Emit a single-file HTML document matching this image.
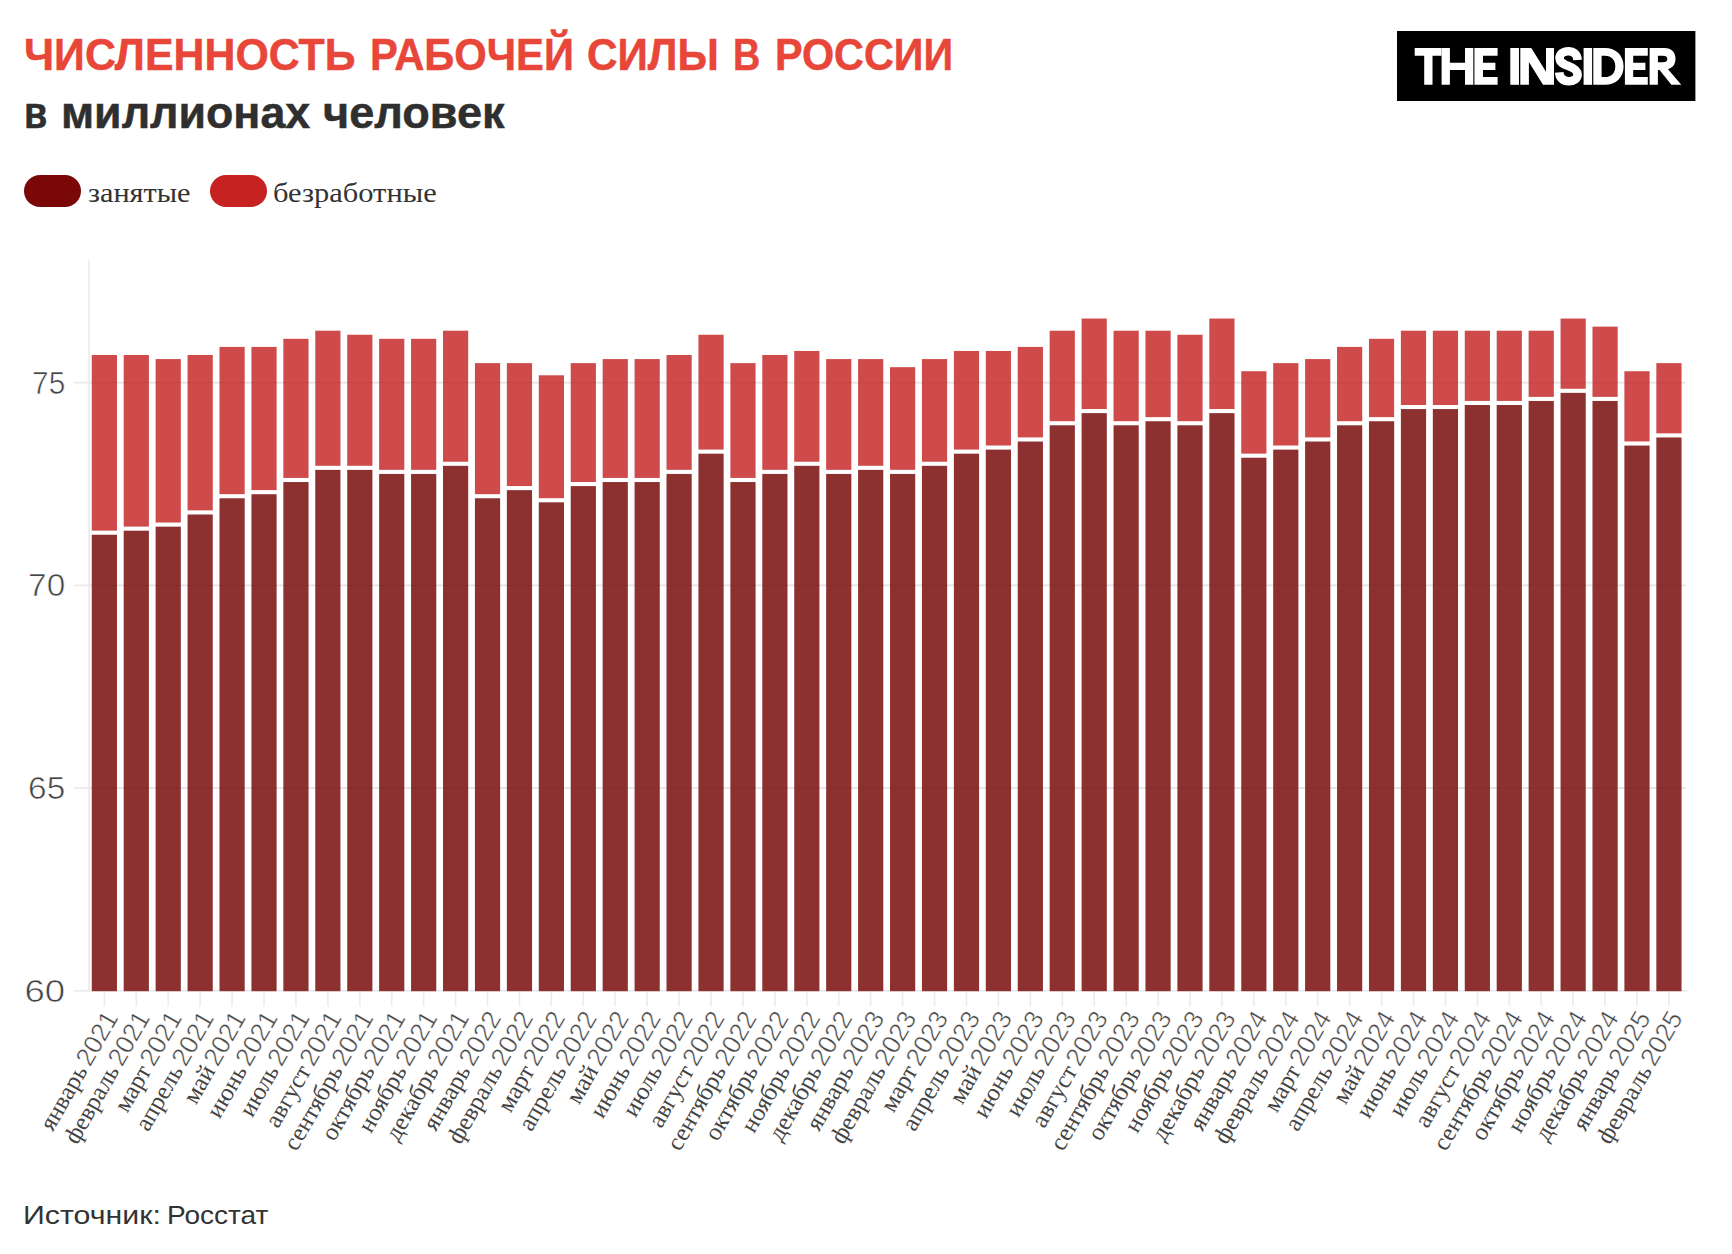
<!DOCTYPE html>
<html lang="ru"><head><meta charset="utf-8"><title>Численность рабочей силы в России</title>
<style>
html,body{margin:0;padding:0;background:#fff;}
body{width:1732px;height:1254px;position:relative;overflow:hidden;font-family:"Liberation Sans",sans-serif;}
.abs{position:absolute;white-space:nowrap;transform-origin:0 0;line-height:1;}
.title{top:31.7px;font-size:45px;font-weight:bold;color:#e74638;-webkit-text-stroke:0.5px #e74638;}
.sub{top:91.6px;font-size:43.5px;font-weight:bold;color:#2f2f2f;-webkit-text-stroke:0.5px #2f2f2f;}
.pill{position:absolute;top:175px;width:57px;height:32px;border-radius:16px;}
.leg{font-family:"Liberation Serif",serif;font-size:28px;color:#333;top:179.3px;}
.src{top:1202.3px;font-size:26.5px;color:#333;}
svg{position:absolute;left:0;top:0;}
.se{font-family:"Liberation Serif",serif;}
.sa{font-family:"Liberation Sans",sans-serif;}
</style></head><body>
<div class="abs title" style="left:24.2px;transform:scaleX(0.9525);">ЧИСЛЕННОСТЬ</div>
<div class="abs title" style="left:369.7px;transform:scaleX(0.9276);">РАБОЧЕЙ</div>
<div class="abs title" style="left:587.2px;transform:scaleX(0.938);">СИЛЫ</div>
<div class="abs title" style="left:732.5px;transform:scaleX(0.839);">В</div>
<div class="abs title" style="left:775.25px;transform:scaleX(0.9176);">РОССИИ</div>
<div class="abs sub" style="left:24.2px;transform:scaleX(0.87);">в</div>
<div class="abs sub" style="left:60.5px;transform:scaleX(1.029);">миллионах</div>
<div class="abs sub" style="left:322.6px;transform:scaleX(1.0365);">человек</div>
<div class="abs leg" style="left:87.9px;transform:scaleX(1.0816);">занятые</div>
<div class="abs leg" style="left:273.4px;transform:scaleX(1.0876);">безработные</div>
<div class="abs src" style="left:22.8px;transform:scaleX(1.144);">Источник:</div>
<div class="abs src" style="left:166.8px;transform:scaleX(1.058);">Росстат</div>
<div class="pill" style="left:24px;background:#7a0808"></div>
<div class="pill" style="left:210px;background:#c62222"></div>
<svg width="1732" height="1254" viewBox="0 0 1732 1254">
<rect x="88.2" y="260" width="1.6" height="731.6" fill="#ebebeb"/>
<rect x="73.6" y="989.90" width="1613.9" height="1.8" fill="#ececec"/>
<rect x="73.6" y="787.20" width="1611.9" height="1.8" fill="#ececec"/>
<rect x="73.6" y="584.50" width="1611.9" height="1.8" fill="#ececec"/>
<rect x="73.6" y="381.80" width="1611.9" height="1.8" fill="#ececec"/>
<rect x="91.77" y="355.02" width="25.2" height="175.63" fill="#cf4a4a"/>
<rect x="91.77" y="534.75" width="25.2" height="456.45" fill="#8c3130"/>
<rect x="123.70" y="355.02" width="25.2" height="171.57" fill="#cf4a4a"/>
<rect x="123.70" y="530.69" width="25.2" height="460.51" fill="#8c3130"/>
<rect x="155.62" y="359.08" width="25.2" height="163.46" fill="#cf4a4a"/>
<rect x="155.62" y="526.64" width="25.2" height="464.56" fill="#8c3130"/>
<rect x="187.56" y="355.02" width="25.2" height="155.36" fill="#cf4a4a"/>
<rect x="187.56" y="514.48" width="25.2" height="476.72" fill="#8c3130"/>
<rect x="219.49" y="346.91" width="25.2" height="147.25" fill="#cf4a4a"/>
<rect x="219.49" y="498.26" width="25.2" height="492.94" fill="#8c3130"/>
<rect x="251.42" y="346.91" width="25.2" height="143.19" fill="#cf4a4a"/>
<rect x="251.42" y="494.21" width="25.2" height="496.99" fill="#8c3130"/>
<rect x="283.35" y="338.81" width="25.2" height="139.14" fill="#cf4a4a"/>
<rect x="283.35" y="482.05" width="25.2" height="509.15" fill="#8c3130"/>
<rect x="315.27" y="330.70" width="25.2" height="135.09" fill="#cf4a4a"/>
<rect x="315.27" y="469.88" width="25.2" height="521.32" fill="#8c3130"/>
<rect x="347.21" y="334.75" width="25.2" height="131.03" fill="#cf4a4a"/>
<rect x="347.21" y="469.88" width="25.2" height="521.32" fill="#8c3130"/>
<rect x="379.13" y="338.81" width="25.2" height="131.03" fill="#cf4a4a"/>
<rect x="379.13" y="473.94" width="25.2" height="517.26" fill="#8c3130"/>
<rect x="411.07" y="338.81" width="25.2" height="131.03" fill="#cf4a4a"/>
<rect x="411.07" y="473.94" width="25.2" height="517.26" fill="#8c3130"/>
<rect x="443.00" y="330.70" width="25.2" height="131.03" fill="#cf4a4a"/>
<rect x="443.00" y="465.83" width="25.2" height="525.37" fill="#8c3130"/>
<rect x="474.92" y="363.13" width="25.2" height="131.03" fill="#cf4a4a"/>
<rect x="474.92" y="498.26" width="25.2" height="492.94" fill="#8c3130"/>
<rect x="506.86" y="363.13" width="25.2" height="122.92" fill="#cf4a4a"/>
<rect x="506.86" y="490.15" width="25.2" height="501.05" fill="#8c3130"/>
<rect x="538.78" y="375.29" width="25.2" height="122.92" fill="#cf4a4a"/>
<rect x="538.78" y="502.32" width="25.2" height="488.88" fill="#8c3130"/>
<rect x="570.72" y="363.13" width="25.2" height="118.87" fill="#cf4a4a"/>
<rect x="570.72" y="486.10" width="25.2" height="505.10" fill="#8c3130"/>
<rect x="602.64" y="359.08" width="25.2" height="118.87" fill="#cf4a4a"/>
<rect x="602.64" y="482.05" width="25.2" height="509.15" fill="#8c3130"/>
<rect x="634.57" y="359.08" width="25.2" height="118.87" fill="#cf4a4a"/>
<rect x="634.57" y="482.05" width="25.2" height="509.15" fill="#8c3130"/>
<rect x="666.50" y="355.02" width="25.2" height="114.82" fill="#cf4a4a"/>
<rect x="666.50" y="473.94" width="25.2" height="517.26" fill="#8c3130"/>
<rect x="698.43" y="334.75" width="25.2" height="114.82" fill="#cf4a4a"/>
<rect x="698.43" y="453.67" width="25.2" height="537.53" fill="#8c3130"/>
<rect x="730.37" y="363.13" width="25.2" height="114.82" fill="#cf4a4a"/>
<rect x="730.37" y="482.05" width="25.2" height="509.15" fill="#8c3130"/>
<rect x="762.29" y="355.02" width="25.2" height="114.82" fill="#cf4a4a"/>
<rect x="762.29" y="473.94" width="25.2" height="517.26" fill="#8c3130"/>
<rect x="794.23" y="350.97" width="25.2" height="110.76" fill="#cf4a4a"/>
<rect x="794.23" y="465.83" width="25.2" height="525.37" fill="#8c3130"/>
<rect x="826.15" y="359.08" width="25.2" height="110.76" fill="#cf4a4a"/>
<rect x="826.15" y="473.94" width="25.2" height="517.26" fill="#8c3130"/>
<rect x="858.08" y="359.08" width="25.2" height="106.71" fill="#cf4a4a"/>
<rect x="858.08" y="469.88" width="25.2" height="521.32" fill="#8c3130"/>
<rect x="890.01" y="367.18" width="25.2" height="102.65" fill="#cf4a4a"/>
<rect x="890.01" y="473.94" width="25.2" height="517.26" fill="#8c3130"/>
<rect x="921.94" y="359.08" width="25.2" height="102.65" fill="#cf4a4a"/>
<rect x="921.94" y="465.83" width="25.2" height="525.37" fill="#8c3130"/>
<rect x="953.88" y="350.97" width="25.2" height="98.60" fill="#cf4a4a"/>
<rect x="953.88" y="453.67" width="25.2" height="537.53" fill="#8c3130"/>
<rect x="985.80" y="350.97" width="25.2" height="94.55" fill="#cf4a4a"/>
<rect x="985.80" y="449.61" width="25.2" height="541.59" fill="#8c3130"/>
<rect x="1017.74" y="346.91" width="25.2" height="90.49" fill="#cf4a4a"/>
<rect x="1017.74" y="441.51" width="25.2" height="549.69" fill="#8c3130"/>
<rect x="1049.66" y="330.70" width="25.2" height="90.49" fill="#cf4a4a"/>
<rect x="1049.66" y="425.29" width="25.2" height="565.91" fill="#8c3130"/>
<rect x="1081.60" y="318.54" width="25.2" height="90.49" fill="#cf4a4a"/>
<rect x="1081.60" y="413.13" width="25.2" height="578.07" fill="#8c3130"/>
<rect x="1113.53" y="330.70" width="25.2" height="90.49" fill="#cf4a4a"/>
<rect x="1113.53" y="425.29" width="25.2" height="565.91" fill="#8c3130"/>
<rect x="1145.46" y="330.70" width="25.2" height="86.44" fill="#cf4a4a"/>
<rect x="1145.46" y="421.24" width="25.2" height="569.96" fill="#8c3130"/>
<rect x="1177.38" y="334.75" width="25.2" height="86.44" fill="#cf4a4a"/>
<rect x="1177.38" y="425.29" width="25.2" height="565.91" fill="#8c3130"/>
<rect x="1209.32" y="318.54" width="25.2" height="90.49" fill="#cf4a4a"/>
<rect x="1209.32" y="413.13" width="25.2" height="578.07" fill="#8c3130"/>
<rect x="1241.25" y="371.24" width="25.2" height="82.38" fill="#cf4a4a"/>
<rect x="1241.25" y="457.72" width="25.2" height="533.48" fill="#8c3130"/>
<rect x="1273.18" y="363.13" width="25.2" height="82.38" fill="#cf4a4a"/>
<rect x="1273.18" y="449.61" width="25.2" height="541.59" fill="#8c3130"/>
<rect x="1305.11" y="359.08" width="25.2" height="78.33" fill="#cf4a4a"/>
<rect x="1305.11" y="441.51" width="25.2" height="549.69" fill="#8c3130"/>
<rect x="1337.04" y="346.91" width="25.2" height="74.28" fill="#cf4a4a"/>
<rect x="1337.04" y="425.29" width="25.2" height="565.91" fill="#8c3130"/>
<rect x="1368.97" y="338.81" width="25.2" height="78.33" fill="#cf4a4a"/>
<rect x="1368.97" y="421.24" width="25.2" height="569.96" fill="#8c3130"/>
<rect x="1400.89" y="330.70" width="25.2" height="74.28" fill="#cf4a4a"/>
<rect x="1400.89" y="409.07" width="25.2" height="582.13" fill="#8c3130"/>
<rect x="1432.83" y="330.70" width="25.2" height="74.28" fill="#cf4a4a"/>
<rect x="1432.83" y="409.07" width="25.2" height="582.13" fill="#8c3130"/>
<rect x="1464.76" y="330.70" width="25.2" height="70.22" fill="#cf4a4a"/>
<rect x="1464.76" y="405.02" width="25.2" height="586.18" fill="#8c3130"/>
<rect x="1496.69" y="330.70" width="25.2" height="70.22" fill="#cf4a4a"/>
<rect x="1496.69" y="405.02" width="25.2" height="586.18" fill="#8c3130"/>
<rect x="1528.62" y="330.70" width="25.2" height="66.17" fill="#cf4a4a"/>
<rect x="1528.62" y="400.97" width="25.2" height="590.23" fill="#8c3130"/>
<rect x="1560.55" y="318.54" width="25.2" height="70.22" fill="#cf4a4a"/>
<rect x="1560.55" y="392.86" width="25.2" height="598.34" fill="#8c3130"/>
<rect x="1592.48" y="326.64" width="25.2" height="70.22" fill="#cf4a4a"/>
<rect x="1592.48" y="400.97" width="25.2" height="590.23" fill="#8c3130"/>
<rect x="1624.40" y="371.24" width="25.2" height="70.22" fill="#cf4a4a"/>
<rect x="1624.40" y="445.56" width="25.2" height="545.64" fill="#8c3130"/>
<rect x="1656.34" y="363.13" width="25.2" height="70.22" fill="#cf4a4a"/>
<rect x="1656.34" y="437.45" width="25.2" height="553.75" fill="#8c3130"/>
<rect x="89" y="787.20" width="1596.0" height="1.8" fill="#000" fill-opacity="0.03"/>
<rect x="89" y="584.50" width="1596.0" height="1.8" fill="#000" fill-opacity="0.03"/>
<rect x="89" y="381.80" width="1596.0" height="1.8" fill="#000" fill-opacity="0.03"/>
<rect x="103.57" y="992.00" width="1.6" height="14.4" fill="#ececec"/>
<rect x="135.50" y="992.00" width="1.6" height="14.4" fill="#ececec"/>
<rect x="167.43" y="992.00" width="1.6" height="14.4" fill="#ececec"/>
<rect x="199.35" y="992.00" width="1.6" height="14.4" fill="#ececec"/>
<rect x="231.28" y="992.00" width="1.6" height="14.4" fill="#ececec"/>
<rect x="263.21" y="992.00" width="1.6" height="14.4" fill="#ececec"/>
<rect x="295.14" y="992.00" width="1.6" height="14.4" fill="#ececec"/>
<rect x="327.07" y="992.00" width="1.6" height="14.4" fill="#ececec"/>
<rect x="359.00" y="992.00" width="1.6" height="14.4" fill="#ececec"/>
<rect x="390.94" y="992.00" width="1.6" height="14.4" fill="#ececec"/>
<rect x="422.86" y="992.00" width="1.6" height="14.4" fill="#ececec"/>
<rect x="454.80" y="992.00" width="1.6" height="14.4" fill="#ececec"/>
<rect x="486.72" y="992.00" width="1.6" height="14.4" fill="#ececec"/>
<rect x="518.66" y="992.00" width="1.6" height="14.4" fill="#ececec"/>
<rect x="550.59" y="992.00" width="1.6" height="14.4" fill="#ececec"/>
<rect x="582.52" y="992.00" width="1.6" height="14.4" fill="#ececec"/>
<rect x="614.45" y="992.00" width="1.6" height="14.4" fill="#ececec"/>
<rect x="646.38" y="992.00" width="1.6" height="14.4" fill="#ececec"/>
<rect x="678.31" y="992.00" width="1.6" height="14.4" fill="#ececec"/>
<rect x="710.24" y="992.00" width="1.6" height="14.4" fill="#ececec"/>
<rect x="742.16" y="992.00" width="1.6" height="14.4" fill="#ececec"/>
<rect x="774.10" y="992.00" width="1.6" height="14.4" fill="#ececec"/>
<rect x="806.02" y="992.00" width="1.6" height="14.4" fill="#ececec"/>
<rect x="837.96" y="992.00" width="1.6" height="14.4" fill="#ececec"/>
<rect x="869.88" y="992.00" width="1.6" height="14.4" fill="#ececec"/>
<rect x="901.82" y="992.00" width="1.6" height="14.4" fill="#ececec"/>
<rect x="933.75" y="992.00" width="1.6" height="14.4" fill="#ececec"/>
<rect x="965.68" y="992.00" width="1.6" height="14.4" fill="#ececec"/>
<rect x="997.61" y="992.00" width="1.6" height="14.4" fill="#ececec"/>
<rect x="1029.54" y="992.00" width="1.6" height="14.4" fill="#ececec"/>
<rect x="1061.47" y="992.00" width="1.6" height="14.4" fill="#ececec"/>
<rect x="1093.39" y="992.00" width="1.6" height="14.4" fill="#ececec"/>
<rect x="1125.33" y="992.00" width="1.6" height="14.4" fill="#ececec"/>
<rect x="1157.26" y="992.00" width="1.6" height="14.4" fill="#ececec"/>
<rect x="1189.19" y="992.00" width="1.6" height="14.4" fill="#ececec"/>
<rect x="1221.12" y="992.00" width="1.6" height="14.4" fill="#ececec"/>
<rect x="1253.05" y="992.00" width="1.6" height="14.4" fill="#ececec"/>
<rect x="1284.98" y="992.00" width="1.6" height="14.4" fill="#ececec"/>
<rect x="1316.91" y="992.00" width="1.6" height="14.4" fill="#ececec"/>
<rect x="1348.84" y="992.00" width="1.6" height="14.4" fill="#ececec"/>
<rect x="1380.77" y="992.00" width="1.6" height="14.4" fill="#ececec"/>
<rect x="1412.70" y="992.00" width="1.6" height="14.4" fill="#ececec"/>
<rect x="1444.63" y="992.00" width="1.6" height="14.4" fill="#ececec"/>
<rect x="1476.56" y="992.00" width="1.6" height="14.4" fill="#ececec"/>
<rect x="1508.49" y="992.00" width="1.6" height="14.4" fill="#ececec"/>
<rect x="1540.42" y="992.00" width="1.6" height="14.4" fill="#ececec"/>
<rect x="1572.35" y="992.00" width="1.6" height="14.4" fill="#ececec"/>
<rect x="1604.28" y="992.00" width="1.6" height="14.4" fill="#ececec"/>
<rect x="1636.21" y="992.00" width="1.6" height="14.4" fill="#ececec"/>
<rect x="1668.14" y="992.00" width="1.6" height="14.4" fill="#ececec"/>
<text transform="translate(118.87 1017.70) rotate(-60)" text-anchor="end" font-size="26" fill="#444"><tspan class="se" font-size="24.8">январь </tspan><tspan class="sa" dx="-2.5" stroke="#fff" stroke-width="0.5">2021</tspan></text>
<text transform="translate(150.80 1017.70) rotate(-60)" text-anchor="end" font-size="26" fill="#444"><tspan class="se" font-size="24.8">февраль </tspan><tspan class="sa" dx="-2.5" stroke="#fff" stroke-width="0.5">2021</tspan></text>
<text transform="translate(182.73 1017.70) rotate(-60)" text-anchor="end" font-size="26" fill="#444"><tspan class="se" font-size="24.8">март </tspan><tspan class="sa" dx="-2.5" stroke="#fff" stroke-width="0.5">2021</tspan></text>
<text transform="translate(214.66 1017.70) rotate(-60)" text-anchor="end" font-size="26" fill="#444"><tspan class="se" font-size="24.8">апрель </tspan><tspan class="sa" dx="-2.5" stroke="#fff" stroke-width="0.5">2021</tspan></text>
<text transform="translate(246.59 1017.70) rotate(-60)" text-anchor="end" font-size="26" fill="#444"><tspan class="se" font-size="24.8">май </tspan><tspan class="sa" dx="-2.5" stroke="#fff" stroke-width="0.5">2021</tspan></text>
<text transform="translate(278.51 1017.70) rotate(-60)" text-anchor="end" font-size="26" fill="#444"><tspan class="se" font-size="24.8">июнь </tspan><tspan class="sa" dx="-2.5" stroke="#fff" stroke-width="0.5">2021</tspan></text>
<text transform="translate(310.44 1017.70) rotate(-60)" text-anchor="end" font-size="26" fill="#444"><tspan class="se" font-size="24.8">июль </tspan><tspan class="sa" dx="-2.5" stroke="#fff" stroke-width="0.5">2021</tspan></text>
<text transform="translate(342.38 1017.70) rotate(-60)" text-anchor="end" font-size="26" fill="#444"><tspan class="se" font-size="24.8">август </tspan><tspan class="sa" dx="-2.5" stroke="#fff" stroke-width="0.5">2021</tspan></text>
<text transform="translate(374.30 1017.70) rotate(-60)" text-anchor="end" font-size="26" fill="#444"><tspan class="se" font-size="24.8">сентябрь </tspan><tspan class="sa" dx="-2.5" stroke="#fff" stroke-width="0.5">2021</tspan></text>
<text transform="translate(406.24 1017.70) rotate(-60)" text-anchor="end" font-size="26" fill="#444"><tspan class="se" font-size="24.8">октябрь </tspan><tspan class="sa" dx="-2.5" stroke="#fff" stroke-width="0.5">2021</tspan></text>
<text transform="translate(438.16 1017.70) rotate(-60)" text-anchor="end" font-size="26" fill="#444"><tspan class="se" font-size="24.8">ноябрь </tspan><tspan class="sa" dx="-2.5" stroke="#fff" stroke-width="0.5">2021</tspan></text>
<text transform="translate(470.10 1017.70) rotate(-60)" text-anchor="end" font-size="26" fill="#444"><tspan class="se" font-size="24.8">декабрь </tspan><tspan class="sa" dx="-2.5" stroke="#fff" stroke-width="0.5">2021</tspan></text>
<text transform="translate(502.02 1017.70) rotate(-60)" text-anchor="end" font-size="26" fill="#444"><tspan class="se" font-size="24.8">январь </tspan><tspan class="sa" dx="-2.5" stroke="#fff" stroke-width="0.5">2022</tspan></text>
<text transform="translate(533.96 1017.70) rotate(-60)" text-anchor="end" font-size="26" fill="#444"><tspan class="se" font-size="24.8">февраль </tspan><tspan class="sa" dx="-2.5" stroke="#fff" stroke-width="0.5">2022</tspan></text>
<text transform="translate(565.88 1017.70) rotate(-60)" text-anchor="end" font-size="26" fill="#444"><tspan class="se" font-size="24.8">март </tspan><tspan class="sa" dx="-2.5" stroke="#fff" stroke-width="0.5">2022</tspan></text>
<text transform="translate(597.82 1017.70) rotate(-60)" text-anchor="end" font-size="26" fill="#444"><tspan class="se" font-size="24.8">апрель </tspan><tspan class="sa" dx="-2.5" stroke="#fff" stroke-width="0.5">2022</tspan></text>
<text transform="translate(629.75 1017.70) rotate(-60)" text-anchor="end" font-size="26" fill="#444"><tspan class="se" font-size="24.8">май </tspan><tspan class="sa" dx="-2.5" stroke="#fff" stroke-width="0.5">2022</tspan></text>
<text transform="translate(661.67 1017.70) rotate(-60)" text-anchor="end" font-size="26" fill="#444"><tspan class="se" font-size="24.8">июнь </tspan><tspan class="sa" dx="-2.5" stroke="#fff" stroke-width="0.5">2022</tspan></text>
<text transform="translate(693.61 1017.70) rotate(-60)" text-anchor="end" font-size="26" fill="#444"><tspan class="se" font-size="24.8">июль </tspan><tspan class="sa" dx="-2.5" stroke="#fff" stroke-width="0.5">2022</tspan></text>
<text transform="translate(725.53 1017.70) rotate(-60)" text-anchor="end" font-size="26" fill="#444"><tspan class="se" font-size="24.8">август </tspan><tspan class="sa" dx="-2.5" stroke="#fff" stroke-width="0.5">2022</tspan></text>
<text transform="translate(757.46 1017.70) rotate(-60)" text-anchor="end" font-size="26" fill="#444"><tspan class="se" font-size="24.8">сентябрь </tspan><tspan class="sa" dx="-2.5" stroke="#fff" stroke-width="0.5">2022</tspan></text>
<text transform="translate(789.39 1017.70) rotate(-60)" text-anchor="end" font-size="26" fill="#444"><tspan class="se" font-size="24.8">октябрь </tspan><tspan class="sa" dx="-2.5" stroke="#fff" stroke-width="0.5">2022</tspan></text>
<text transform="translate(821.32 1017.70) rotate(-60)" text-anchor="end" font-size="26" fill="#444"><tspan class="se" font-size="24.8">ноябрь </tspan><tspan class="sa" dx="-2.5" stroke="#fff" stroke-width="0.5">2022</tspan></text>
<text transform="translate(853.25 1017.70) rotate(-60)" text-anchor="end" font-size="26" fill="#444"><tspan class="se" font-size="24.8">декабрь </tspan><tspan class="sa" dx="-2.5" stroke="#fff" stroke-width="0.5">2022</tspan></text>
<text transform="translate(885.18 1017.70) rotate(-60)" text-anchor="end" font-size="26" fill="#444"><tspan class="se" font-size="24.8">январь </tspan><tspan class="sa" dx="-2.5" stroke="#fff" stroke-width="0.5">2023</tspan></text>
<text transform="translate(917.12 1017.70) rotate(-60)" text-anchor="end" font-size="26" fill="#444"><tspan class="se" font-size="24.8">февраль </tspan><tspan class="sa" dx="-2.5" stroke="#fff" stroke-width="0.5">2023</tspan></text>
<text transform="translate(949.04 1017.70) rotate(-60)" text-anchor="end" font-size="26" fill="#444"><tspan class="se" font-size="24.8">март </tspan><tspan class="sa" dx="-2.5" stroke="#fff" stroke-width="0.5">2023</tspan></text>
<text transform="translate(980.98 1017.70) rotate(-60)" text-anchor="end" font-size="26" fill="#444"><tspan class="se" font-size="24.8">апрель </tspan><tspan class="sa" dx="-2.5" stroke="#fff" stroke-width="0.5">2023</tspan></text>
<text transform="translate(1012.90 1017.70) rotate(-60)" text-anchor="end" font-size="26" fill="#444"><tspan class="se" font-size="24.8">май </tspan><tspan class="sa" dx="-2.5" stroke="#fff" stroke-width="0.5">2023</tspan></text>
<text transform="translate(1044.84 1017.70) rotate(-60)" text-anchor="end" font-size="26" fill="#444"><tspan class="se" font-size="24.8">июнь </tspan><tspan class="sa" dx="-2.5" stroke="#fff" stroke-width="0.5">2023</tspan></text>
<text transform="translate(1076.77 1017.70) rotate(-60)" text-anchor="end" font-size="26" fill="#444"><tspan class="se" font-size="24.8">июль </tspan><tspan class="sa" dx="-2.5" stroke="#fff" stroke-width="0.5">2023</tspan></text>
<text transform="translate(1108.69 1017.70) rotate(-60)" text-anchor="end" font-size="26" fill="#444"><tspan class="se" font-size="24.8">август </tspan><tspan class="sa" dx="-2.5" stroke="#fff" stroke-width="0.5">2023</tspan></text>
<text transform="translate(1140.62 1017.70) rotate(-60)" text-anchor="end" font-size="26" fill="#444"><tspan class="se" font-size="24.8">сентябрь </tspan><tspan class="sa" dx="-2.5" stroke="#fff" stroke-width="0.5">2023</tspan></text>
<text transform="translate(1172.56 1017.70) rotate(-60)" text-anchor="end" font-size="26" fill="#444"><tspan class="se" font-size="24.8">октябрь </tspan><tspan class="sa" dx="-2.5" stroke="#fff" stroke-width="0.5">2023</tspan></text>
<text transform="translate(1204.49 1017.70) rotate(-60)" text-anchor="end" font-size="26" fill="#444"><tspan class="se" font-size="24.8">ноябрь </tspan><tspan class="sa" dx="-2.5" stroke="#fff" stroke-width="0.5">2023</tspan></text>
<text transform="translate(1236.42 1017.70) rotate(-60)" text-anchor="end" font-size="26" fill="#444"><tspan class="se" font-size="24.8">декабрь </tspan><tspan class="sa" dx="-2.5" stroke="#fff" stroke-width="0.5">2023</tspan></text>
<text transform="translate(1268.35 1017.70) rotate(-60)" text-anchor="end" font-size="26" fill="#444"><tspan class="se" font-size="24.8">январь </tspan><tspan class="sa" dx="-2.5" stroke="#fff" stroke-width="0.5">2024</tspan></text>
<text transform="translate(1300.28 1017.70) rotate(-60)" text-anchor="end" font-size="26" fill="#444"><tspan class="se" font-size="24.8">февраль </tspan><tspan class="sa" dx="-2.5" stroke="#fff" stroke-width="0.5">2024</tspan></text>
<text transform="translate(1332.21 1017.70) rotate(-60)" text-anchor="end" font-size="26" fill="#444"><tspan class="se" font-size="24.8">март </tspan><tspan class="sa" dx="-2.5" stroke="#fff" stroke-width="0.5">2024</tspan></text>
<text transform="translate(1364.13 1017.70) rotate(-60)" text-anchor="end" font-size="26" fill="#444"><tspan class="se" font-size="24.8">апрель </tspan><tspan class="sa" dx="-2.5" stroke="#fff" stroke-width="0.5">2024</tspan></text>
<text transform="translate(1396.07 1017.70) rotate(-60)" text-anchor="end" font-size="26" fill="#444"><tspan class="se" font-size="24.8">май </tspan><tspan class="sa" dx="-2.5" stroke="#fff" stroke-width="0.5">2024</tspan></text>
<text transform="translate(1428.00 1017.70) rotate(-60)" text-anchor="end" font-size="26" fill="#444"><tspan class="se" font-size="24.8">июнь </tspan><tspan class="sa" dx="-2.5" stroke="#fff" stroke-width="0.5">2024</tspan></text>
<text transform="translate(1459.93 1017.70) rotate(-60)" text-anchor="end" font-size="26" fill="#444"><tspan class="se" font-size="24.8">июль </tspan><tspan class="sa" dx="-2.5" stroke="#fff" stroke-width="0.5">2024</tspan></text>
<text transform="translate(1491.86 1017.70) rotate(-60)" text-anchor="end" font-size="26" fill="#444"><tspan class="se" font-size="24.8">август </tspan><tspan class="sa" dx="-2.5" stroke="#fff" stroke-width="0.5">2024</tspan></text>
<text transform="translate(1523.79 1017.70) rotate(-60)" text-anchor="end" font-size="26" fill="#444"><tspan class="se" font-size="24.8">сентябрь </tspan><tspan class="sa" dx="-2.5" stroke="#fff" stroke-width="0.5">2024</tspan></text>
<text transform="translate(1555.72 1017.70) rotate(-60)" text-anchor="end" font-size="26" fill="#444"><tspan class="se" font-size="24.8">октябрь </tspan><tspan class="sa" dx="-2.5" stroke="#fff" stroke-width="0.5">2024</tspan></text>
<text transform="translate(1587.64 1017.70) rotate(-60)" text-anchor="end" font-size="26" fill="#444"><tspan class="se" font-size="24.8">ноябрь </tspan><tspan class="sa" dx="-2.5" stroke="#fff" stroke-width="0.5">2024</tspan></text>
<text transform="translate(1619.58 1017.70) rotate(-60)" text-anchor="end" font-size="26" fill="#444"><tspan class="se" font-size="24.8">декабрь </tspan><tspan class="sa" dx="-2.5" stroke="#fff" stroke-width="0.5">2024</tspan></text>
<text transform="translate(1651.51 1017.70) rotate(-60)" text-anchor="end" font-size="26" fill="#444"><tspan class="se" font-size="24.8">январь </tspan><tspan class="sa" dx="-2.5" stroke="#fff" stroke-width="0.5">2025</tspan></text>
<text transform="translate(1683.44 1017.70) rotate(-60)" text-anchor="end" font-size="26" fill="#444"><tspan class="se" font-size="24.8">февраль </tspan><tspan class="sa" dx="-2.5" stroke="#fff" stroke-width="0.5">2025</tspan></text>
<text class="sa" transform="translate(65.2 1001.70) scale(1.16 1)" text-anchor="end" font-size="31.5" fill="#444" stroke="#fff" stroke-width="0.6">60</text>
<text class="sa" transform="translate(65.2 799.00) scale(1.06 1)" text-anchor="end" font-size="31.5" fill="#444" stroke="#fff" stroke-width="0.6">65</text>
<text class="sa" transform="translate(65.2 596.30) scale(1.06 1)" text-anchor="end" font-size="31.5" fill="#444" stroke="#fff" stroke-width="0.6">70</text>
<text class="sa" transform="translate(65.2 393.60) scale(0.945 1)" text-anchor="end" font-size="31.5" fill="#444" stroke="#fff" stroke-width="0.6">75</text>
<rect x="1397" y="31" width="298.4" height="70" fill="#000"/>
<g fill="#fff"><path d="M1414.7,48H1441.6V55.8H1432.5V84.8H1424.2V55.8H1414.7Z"/><path d="M1441.6,48H1449.9V62.7H1465V48H1473.3V84.8H1465V70.1H1449.9V84.8H1441.6Z"/><path d="M1474.4,48H1497.6V55.8H1483V62.7H1495.4V70.1H1483V77H1497.6V84.8H1474.4Z"/><rect x="1510.3" y="48" width="8.7" height="36.8"/><path d="M1520.3,48H1531.3L1546,71.8V48H1554V84.8H1543L1528.9,62V84.8H1520.3Z"/><rect x="1583.6" y="48" width="8.5" height="36.8"/><path fill-rule="evenodd" d="M1593.3,48H1605C1616,48 1623.6,55.5 1623.6,66.4C1623.6,77.3 1616,84.8 1605,84.8H1593.3ZM1601.6,55.8H1605C1611.5,55.8 1615.3,60 1615.3,66.4C1615.3,72.8 1611.5,77 1605,77H1601.6Z"/><path d="M1624.9,48H1647.8V55.8H1633.2V62.7H1645.4V70.1H1633.2V77H1647.8V84.8H1624.9Z"/><path fill-rule="evenodd" d="M1649.6,48H1664.5C1671.5,48 1675.5,52.5 1675.5,58.8C1675.5,64.5 1672.5,68 1668,69.2L1681.3,84.8H1671.4L1659.5,70H1657.9V84.8H1649.6ZM1657.9,55.8H1663C1665.8,55.8 1667.3,57 1667.3,59C1667.3,61.1 1665.8,62.3 1663,62.3H1657.9Z"/></g>
<path fill="none" stroke="#fff" stroke-width="8.6" d="M1577.6,60C1577.4,53.8 1573,51.2 1568.3,51.2C1563,51.2 1559.6,54.2 1559.6,58C1559.6,62.2 1563,64 1568.4,66C1574,68 1577.6,70.2 1577.6,74.6C1577.6,78.8 1573.8,81.2 1568.6,81.2C1563.4,81.2 1559.6,78.4 1559.2,72.4"/>
</svg>
</body></html>
